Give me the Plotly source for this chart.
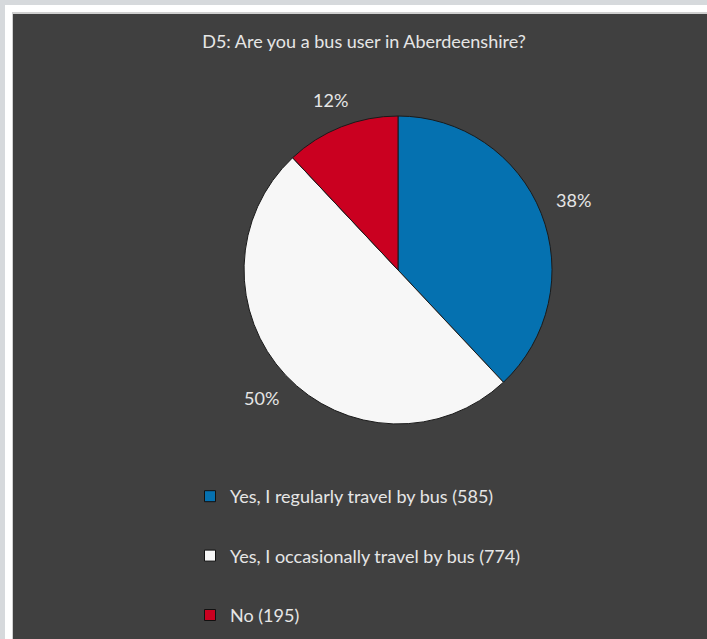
import math
import plotly.graph_objects as go

# Survey question D5 – share of respondents by bus use
categories = [
    "Yes, I regularly travel by bus (585)",
    "Yes, I occasionally travel by bus (774)",
    "No (195)",
]
shares = [38, 50, 12]  # percent of respondents
colors = ["#0571b0", "#f7f7f7", "#ca0020"]
title_text = "D5: Are you a bus user in Aberdeenshire?"

W, H = 707, 639
BG = "#404040"
TXT = "#e6e6e6"
FONT = "Lato, 'Open Sans', sans-serif"

# pie geometry in pixels
cx, cy, r = 398, 270, 154

fig = go.Figure()

fig.add_trace(go.Pie(
    values=shares,
    labels=categories,
    marker=dict(colors=colors, line=dict(color="#1a1a1a", width=1)),
    sort=False,
    direction="clockwise",
    rotation=0,
    textinfo="none",
    showlegend=False,
    hoverinfo="label+percent",
    domain=dict(x=[(cx - r) / W, (cx + r) / W],
                y=[1 - (cy + r) / H, 1 - (cy - r) / H]),
))

# percentage labels just outside each slice, at the slice's mid-angle
annotations = []
total = sum(shares)
start = 0.0
gap, box_w, box_h = 16, 35, 14
for v in shares:
    mid = (start + v / 2) / total * 2 * math.pi
    start += v
    dx, dy = math.sin(mid), -math.cos(mid)
    half = abs(dx) * box_w / 2 + abs(dy) * box_h / 2
    R = r + gap + half
    annotations.append(dict(
        x=(cx + R * dx) / W, y=1 - (cy + R * dy) / H,
        xref="paper", yref="paper", xanchor="center", yanchor="middle",
        text=f"{v}%", showarrow=False,
        font=dict(color=TXT, size=18, family=FONT),
    ))

# legend entries as square swatches, one group each so they can be spaced apart
for i, (name, col) in enumerate(zip(categories, colors)):
    fig.add_trace(go.Scatter(
        x=[None], y=[None], mode="markers", name=name,
        marker=dict(symbol="square", size=11, color=col,
                    line=dict(color="#111111", width=1)),
        legendgroup=f"g{i}", showlegend=True, hoverinfo="skip",
    ))

# frame: outer light rim, white gap, dark chart area
shapes = [
    dict(type="rect", xref="paper", yref="paper", x0=0, x1=1, y0=0, y1=1,
         fillcolor="#d6d9dc", line=dict(width=0), layer="below"),
    dict(type="rect", xref="paper", yref="paper", x0=5 / W, x1=1, y0=0, y1=1 - 5 / H,
         fillcolor="#ffffff", line=dict(width=0), layer="below"),
    dict(type="rect", xref="paper", yref="paper", x0=12 / W, x1=1, y0=0, y1=1 - 12 / H,
         fillcolor="#d0d0d0", line=dict(width=0), layer="below"),
    dict(type="rect", xref="paper", yref="paper", x0=13 / W, x1=1, y0=0, y1=1 - 14 / H,
         fillcolor=BG, line=dict(width=0), layer="below"),
]

fig.update_layout(
    width=W, height=H,
    margin=dict(l=0, r=0, t=0, b=0),
    paper_bgcolor="#ffffff",
    plot_bgcolor="rgba(0,0,0,0)",
    shapes=shapes,
    annotations=annotations,
    xaxis=dict(visible=False), yaxis=dict(visible=False),
    title=dict(text=title_text, x=364 / W, xanchor="center",
               y=1 - 42 / H, yanchor="middle", yref="container",
               font=dict(color=TXT, size=18, family=FONT)),
    legend=dict(x=190 / W, y=1 - 478 / H, xanchor="left", yanchor="top",
                bgcolor="rgba(0,0,0,0)", font=dict(color=TXT, size=18, family=FONT),
                tracegroupgap=33, itemclick=False, itemdoubleclick=False),
    showlegend=True,
)

fig.write_html("out.html")
